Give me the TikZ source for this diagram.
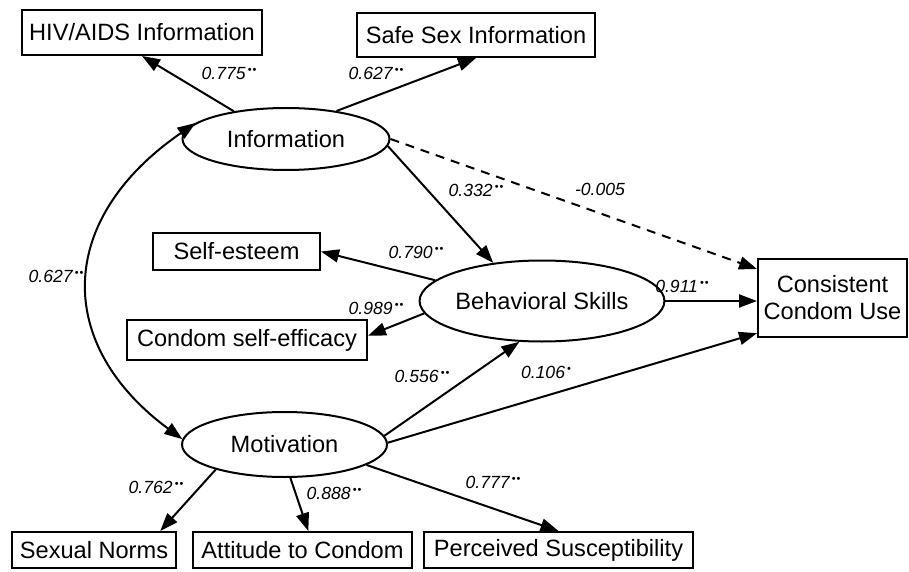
\documentclass[tikz,border=0pt]{standalone}
\usepackage{fontspec}
\setmainfont{Liberation Sans}
\usetikzlibrary{arrows.meta,shapes.geometric}
\begin{document}
\begin{tikzpicture}[x=0.5pt,y=-0.5pt,
  box/.style={draw,line width=1pt,inner sep=0pt,font=\fontsize{11.8}{13.5}\selectfont,align=center},
  latent/.style={draw,ellipse,line width=1pt,inner sep=0pt,font=\fontsize{11.8}{13.5}\selectfont},
  path/.style={line width=1pt,-{Triangle[length=9pt,width=6.5pt]}},
  coef/.style={font=\fontsize{8.8}{10}\selectfont\itshape,inner sep=0pt}]
\useasboundingbox (0,0) rectangle (909,572);
\newcommand{\sst}{\kern0.12em\raisebox{0.62ex}{\upshape\fontsize{5.5}{6}\selectfont\textbullet\kern0.08em\textbullet}}
\newcommand{\sone}{\kern0.12em\raisebox{0.62ex}{\upshape\fontsize{5.5}{6}\selectfont\textbullet}}
% observed
\node[box,minimum width=120pt,minimum height=22.5pt] (hiv) at (142,32.5) {HIV/AIDS Information};
\node[box,minimum width=119pt,minimum height=22pt] (safe) at (476,35) {Safe Sex Information};
\node[box,minimum width=83.5pt,minimum height=18.5pt] (self) at (236.5,251.5) {Self-esteem};
\node[box,minimum width=120pt,minimum height=20pt] (cse) at (247,340) {Condom self-efficacy};
\node[box,minimum width=74.5pt,minimum height=39pt] (ccu) at (832.5,298) {Consistent\\Condom Use};
\node[box,minimum width=82pt,minimum height=18pt] (sn) at (94,550) {Sexual Norms};
\node[box,minimum width=109.5pt,minimum height=18pt] (att) at (302.5,550) {Attitude to Condom};
\node[box,minimum width=134.5pt,minimum height=18pt] (per) at (558.5,550) {Perceived Susceptibility};
% latent
\node[latent,minimum width=103.5pt,minimum height=31pt] (info) at (286,139) {Information};
\node[latent,minimum width=101.5pt,minimum height=40.5pt] (beh) at (542,301) {Behavioral Skills};
\node[latent,minimum width=102.5pt,minimum height=32.5pt] (mot) at (284.5,444.5) {Motivation};
% paths
\draw[path] (info.152) -- (hiv.south);
\draw[path] (info.29) -- (safe.south);
\draw[path] (info.-4) -- (beh.142);
\draw[path,dash pattern=on 4.5pt off 3.5pt] (info.east) -- (ccu.159);
\draw[path] (beh.169) -- (self.east);
\draw[path] (beh.186) -- (cse.2);
\draw[path] (beh.east) -- (beh.east -| ccu.west);
\draw[path] (mot.5) -- (beh.241);
\draw[path] (mot.1) -- (ccu.205);
\draw[path] (mot.-14) -- (per.north);
\draw[path] (mot.200) -- (sn.16);
\draw[path] (mot.-80) -- (att.73);
\draw[line width=1pt,{Triangle[length=9pt,width=6.5pt]}-{Triangle[length=9pt,width=6.5pt]}]
  (info.170) .. controls (55,220) and (55,345) .. (mot.177);
% coefficients
\node[coef] (c1) at (229,73) {0.775\sst};
\node[coef] (c2) at (376,73) {0.627\sst};
\node[coef] (c3) at (476,190) {0.332\sst};
\node[coef] (c4) at (600,189) {-0.005};
\node[coef] (c5) at (56,276) {0.627\sst};
\node[coef] (c6) at (416,252) {0.790\sst};
\node[coef] (c7) at (376,308) {0.989\sst};
\node[coef] (c8) at (682,286) {0.911\sst};
\node[coef] (c9) at (422,376) {0.556\sst};
\node[coef] (c10) at (546,372) {0.106\sone};
\node[coef] (c11) at (156,487) {0.762\sst};
\node[coef] (c12) at (334,493) {0.888\sst};
\node[coef] (c13) at (493,482) {0.777\sst};
\end{tikzpicture}
\end{document}
